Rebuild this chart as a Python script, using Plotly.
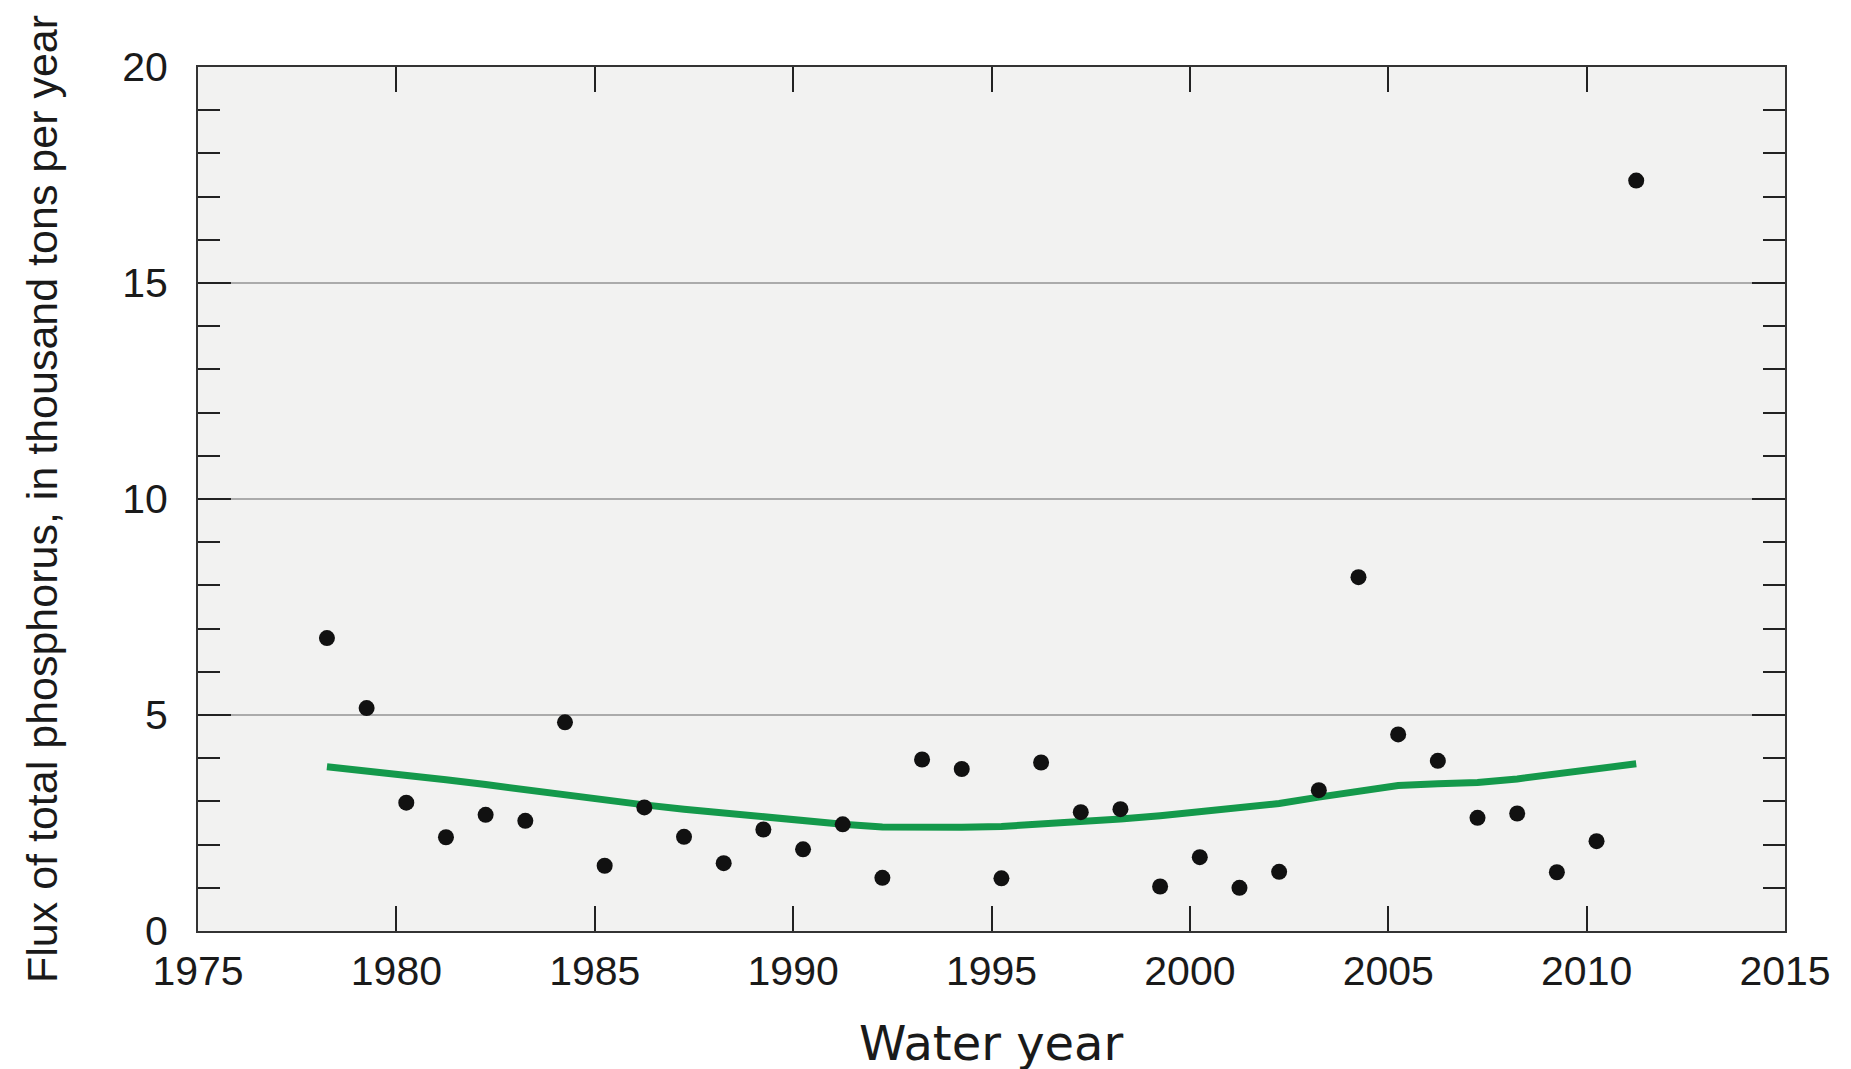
import plotly.graph_objects as go

# Water years and annual flux of total phosphorus (thousand tons per year)
water_years = list(range(1978, 2012))
flux = [6.78, 5.16, 2.97, 2.17, 2.69, 2.55, 4.83, 1.51, 2.86, 2.18,
        1.57, 2.35, 1.89, 2.47, 1.23, 3.97, 3.75, 1.22, 3.90, 2.75,
        2.82, 1.03, 1.71, 1.00, 1.37, 3.26, 8.19, 4.55, 3.94, 2.62,
        2.72, 1.36, 2.08, 17.37]
# Smoothed trend (green curve) at each water year
trend = [3.80, 3.71, 3.61, 3.50, 3.39, 3.27, 3.13, 3.02, 2.92, 2.82,
         2.73, 2.63, 2.54, 2.47, 2.41, 2.39, 2.40, 2.42, 2.47, 2.52,
         2.59, 2.67, 2.76, 2.85, 2.95, 3.10, 3.25, 3.37, 3.41, 3.44,
         3.52, 3.64, 3.76, 3.87]
x_ticks = [1975, 1980, 1985, 1990, 1995, 2000, 2005, 2010, 2015]
y_ticks = [0, 5, 10, 15, 20]

# plot each water year at its midpoint (water year runs Oct 1 - Sep 30)
x_mid = [y + 0.25 for y in water_years]

fig = go.Figure()
fig.add_trace(go.Scatter(x=x_mid, y=trend, mode="lines",
                         line=dict(color="#14994b", width=7),
                         hoverinfo="skip", showlegend=False))
fig.add_trace(go.Scatter(x=x_mid, y=flux, mode="markers",
                         marker=dict(color="#111111", size=16),
                         showlegend=False))

axis_font = dict(family="Liberation Sans, Arial, sans-serif", size=41, color="#1a1a1a")

L, T, W, H = 190, 59, 1587, 864
fig.update_layout(
    width=1851, height=1069,
    margin=dict(l=L, r=1851 - L - W, t=T, b=1069 - T - H),
    paper_bgcolor="white",
    plot_bgcolor="#f2f2f1",
    xaxis=dict(range=[1975, 2015], tickvals=x_ticks, ticktext=[str(t) for t in x_ticks],
               ticks="inside", ticklen=25, tickwidth=2, tickcolor="#222",
               showline=True, linecolor="#333", linewidth=2, mirror="ticks",
               showgrid=False, zeroline=False, tickfont=axis_font,
               ticklabelstandoff=3),
    yaxis=dict(range=[0, 20], tickvals=y_ticks, ticktext=[str(t) for t in y_ticks],
               ticks="inside", ticklen=33, tickwidth=2, tickcolor="#222",
               minor=dict(dtick=1, ticks="inside", ticklen=22, tickwidth=2,
                          tickcolor="#222", showgrid=False),
               showline=True, linecolor="#333", linewidth=2, mirror="ticks",
               showgrid=True, gridcolor="#ababab", gridwidth=1.5,
               zeroline=False, tickfont=axis_font, ticklabelstandoff=20),
    annotations=[
        dict(text="Flux of total phosphorus, in thousand tons per year",
             xref="paper", yref="paper", x=(34 - L) / W, y=0.5,
             xanchor="center", yanchor="middle", textangle=-90, showarrow=False,
             font=dict(family="Liberation Sans, Arial, sans-serif",
                       size=43, color="#1a1a1a")),
        dict(text="Water year",
             xref="paper", yref="paper", x=0.5, y=(T + H - 1035) / H,
             xanchor="center", yanchor="middle", showarrow=False,
             font=dict(family="DejaVu Sans, sans-serif", size=48, color="#1a1a1a")),
    ],
)

fig.write_html("out.html")
